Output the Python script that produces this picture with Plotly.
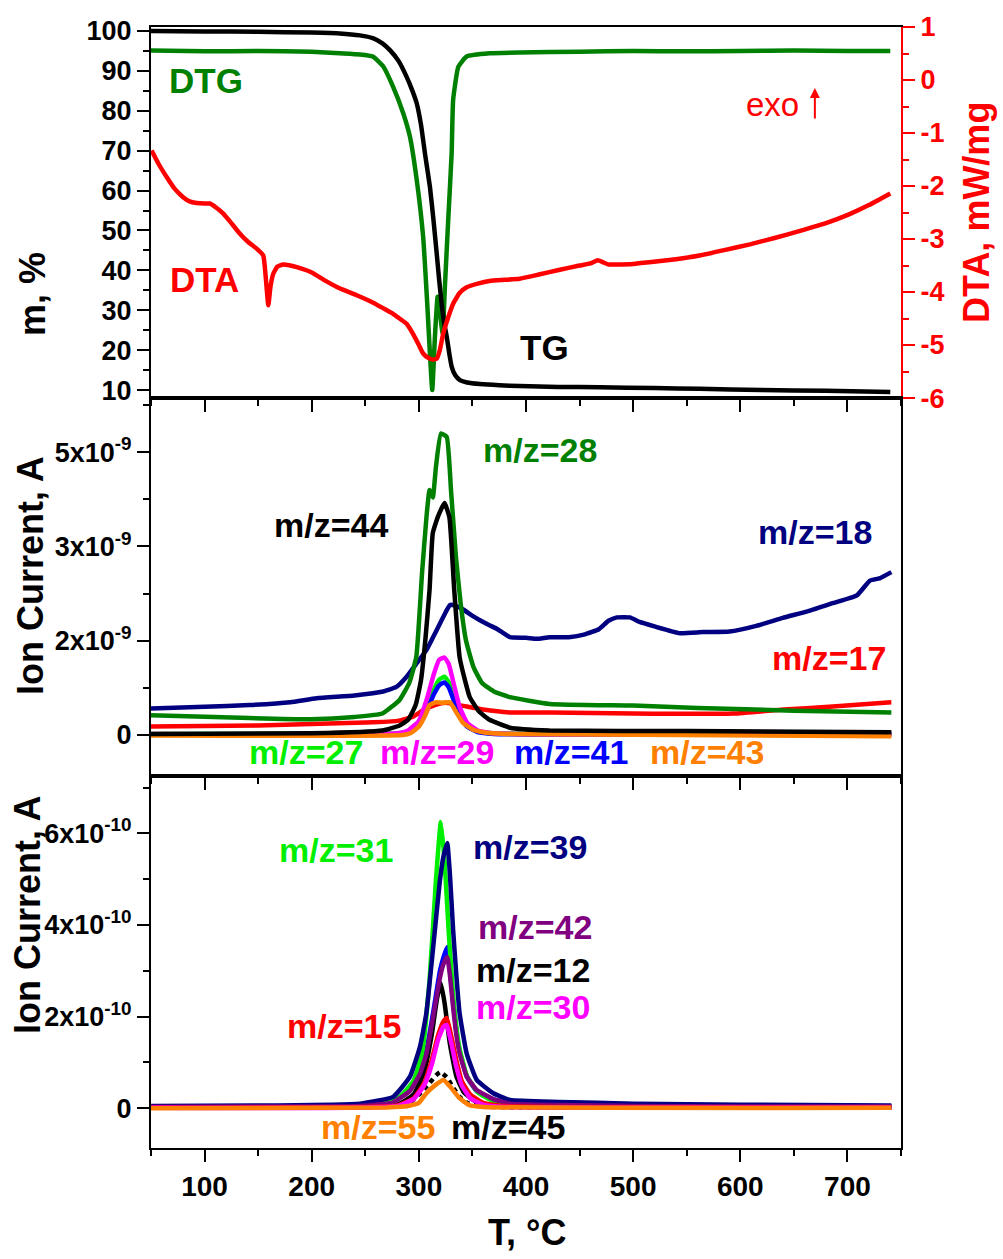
import plotly.graph_objects as go

FONT = "Liberation Sans, Arial, sans-serif"

# ---------------- Top panel: TG / DTG (m, %) and DTA (mW/mg) ----------------
tg_T = [50, 100, 150, 200, 226, 245, 257, 266, 273, 281, 288.6, 294, 298, 302, 305.7, 310.3, 313.5,
        316.6, 319, 321.2, 323.5, 326, 328.5, 330.6, 334, 338.3, 345, 357, 375, 394, 430, 469, 520,
        562, 620, 680, 740]
tg_m = [100, 99.9, 99.8, 99.6, 99.4, 98.9, 98.2, 96.9, 95.2, 92.5, 88.5, 85, 81.9, 76.5, 69.3, 61, 53,
        44.4, 37.5, 31.8, 27, 23.4, 19, 15.9, 13.7, 12.5, 11.9, 11.5, 11.2, 11.0, 10.8, 10.7, 10.5,
        10.3, 10.0, 9.8, 9.5]

dtg_T = [50, 100, 150, 200, 226, 245, 257, 266.8, 276, 285.4, 291.7, 298, 304, 307.8, 310.3, 312.5,
         315, 317.5, 319.7, 322.2, 324.3, 327.4, 330.6, 332, 336.8, 344.6, 366, 394, 450, 500, 550,
         600, 650, 700, 740]
dtg_v = [95.1, 94.9, 95.0, 94.8, 94.4, 94.1, 93.6, 91.1, 86, 79.4, 73.5, 62.7, 48.4, 31.8, 19.3, 10,
         23.4, 33.4, 29.2, 24.2, 35.9, 52.6, 69.3, 82.7, 91, 93.6, 94.4, 94.6, 94.8, 95.0, 94.9,
         95.0, 95.1, 95.0, 95.0]

dta_T = [50.6, 57, 64.6, 72, 80, 86, 92.6, 100, 105, 111, 117.5, 125, 133, 141, 148.6, 154.8, 157,
         159.5, 161.5, 164.2, 168, 173.4, 180, 186, 200, 213, 226, 242, 257.4, 268, 276, 282, 288.6,
         294.8, 300, 304, 308.7, 312.5, 316.6, 319.5, 322.8, 327, 332, 338, 344.6, 355, 366, 380,
         394, 412, 431.6, 450, 460, 467, 472, 477, 483, 500, 515, 540, 562, 585, 609, 632, 655, 680,
         702, 720, 740]
dta_v = [-1.33, -1.58, -1.83, -2.05, -2.21, -2.29, -2.32, -2.33, -2.33, -2.41, -2.52, -2.70, -2.90,
         -3.06, -3.18, -3.31, -3.70, -4.25, -3.90, -3.65, -3.52, -3.48, -3.50, -3.53, -3.63, -3.79,
         -3.93, -4.06, -4.20, -4.32, -4.41, -4.50, -4.60, -4.80, -5.0, -5.16, -5.24, -5.27, -5.26,
         -5.10, -4.78, -4.50, -4.22, -4.02, -3.91, -3.84, -3.79, -3.77, -3.75, -3.67, -3.58, -3.50,
         -3.46, -3.40, -3.44, -3.48, -3.48, -3.47, -3.44, -3.38, -3.31, -3.21, -3.10, -2.98, -2.85,
         -2.70, -2.53, -2.36, -2.14]

dta_tickvals = [-6, -5, -4, -3, -2, -1, 0, 1]
dta_ticktext = ["-6", "-5", "-4", "-3", "-2", "-1", "0", "1"]

# ---------------- Middle panel: ion current, units of 1e-9 A ----------------
mz18_T = [50, 100, 142, 180, 204.6, 240, 266.8, 279, 288.6, 298, 307, 313, 319.7, 325, 329, 335,
          341.4, 349, 357, 365, 372.6, 385, 400, 410, 422, 440, 455, 468, 477, 484.8, 497, 506, 520,
          543.6, 565, 590, 615, 639.7, 665, 686, 708.8, 721, 730, 741]
mz18_v = [0.47, 0.50, 0.53, 0.58, 0.65, 0.70, 0.77, 0.85, 1.03, 1.27, 1.50, 1.72, 1.97, 2.17, 2.30,
          2.28, 2.22, 2.12, 2.03, 1.95, 1.88, 1.73, 1.72, 1.70, 1.73, 1.73, 1.78, 1.87, 2.02, 2.08,
          2.08, 2.00, 1.92, 1.80, 1.82, 1.83, 1.93, 2.07, 2.20, 2.33, 2.47, 2.73, 2.77, 2.88]

mz17_T = [50, 150, 250, 280, 295, 305, 315, 325, 340, 360, 385, 422, 500, 593, 640, 683, 741]
mz17_v = [0.15, 0.17, 0.22, 0.25, 0.33, 0.45, 0.53, 0.57, 0.52, 0.45, 0.40, 0.40, 0.38, 0.38, 0.45,
          0.50, 0.58]

mz28_T = [50, 142, 200, 240, 266, 282, 291, 297.6, 303, 307, 310, 313, 316, 320.6, 326, 330, 334.6,
          339, 344, 351, 359, 370, 385, 422, 500, 560, 650, 741]
mz28_v = [0.35, 0.30, 0.28, 0.32, 0.38, 0.62, 0.92, 1.38, 2.87, 3.83, 4.33, 4.20, 4.75, 5.33, 5.27,
          4.33, 3.15, 2.33, 1.67, 1.20, 0.92, 0.77, 0.67, 0.55, 0.52, 0.48, 0.43, 0.40]

mz44_T = [50, 200, 266, 282, 290, 297, 302, 306, 310, 313, 318, 324, 328.5, 333, 338, 343, 347.5,
          356, 366, 385, 422, 550, 741]
mz44_v = [0.02, 0.03, 0.08, 0.17, 0.27, 0.53, 0.97, 1.67, 2.57, 3.57, 3.87, 4.10, 3.85, 2.57, 1.38,
          0.97, 0.67, 0.42, 0.27, 0.13, 0.08, 0.07, 0.05]

pk_T = [50, 280, 290, 300, 308, 314, 319, 324, 328, 333, 338, 345, 355, 370, 741]
mz29_v = [0.02, 0.03, 0.08, 0.25, 0.67, 1.08, 1.33, 1.37, 1.25, 0.87, 0.50, 0.22, 0.08, 0.03, 0.02]
mz27_v = [0.02, 0.03, 0.06, 0.19, 0.50, 0.80, 0.98, 1.03, 0.93, 0.65, 0.37, 0.16, 0.06, 0.03, 0.02]
mz41_v = [0.01, 0.02, 0.05, 0.17, 0.45, 0.72, 0.88, 0.93, 0.84, 0.59, 0.34, 0.15, 0.05, 0.02, 0.01]

mz43_T = [50, 285, 292, 300, 306, 310, 316, 322, 329, 335, 341, 350, 360, 380, 741]
mz43_v = [-0.01, 0.0, 0.03, 0.15, 0.35, 0.53, 0.58, 0.57, 0.58, 0.40, 0.22, 0.10, 0.05, 0.02, -0.02]

# ---------------- Bottom panel: ion current, units of 1e-10 A ----------------
mz39_T = [50, 150, 245, 276, 291.7, 301, 307, 313.4, 319.7, 323, 326.5, 329, 332, 335, 338, 344.6,
          354, 369.5, 385, 431.6, 500, 600, 741]
mz39_v = [0.05, 0.06, 0.10, 0.25, 0.69, 1.34, 2.08, 3.52, 4.98, 5.50, 5.79, 5.10, 3.89, 2.90, 2.08,
          1.20, 0.62, 0.33, 0.18, 0.14, 0.10, 0.08, 0.06]
mzb41_v = [0.03, 0.04, 0.06, 0.15, 0.41, 0.80, 1.25, 2.10, 3.00, 3.30, 3.52, 3.05, 2.30, 1.70,
           1.25, 0.70, 0.37, 0.20, 0.10, 0.07, 0.05, 0.04, 0.04]
mz42_v = [0.03, 0.04, 0.05, 0.13, 0.38, 0.75, 1.18, 2.00, 2.85, 3.15, 3.30, 2.90, 2.20, 1.60, 1.20,
          0.70, 0.40, 0.20, 0.10, 0.07, 0.05, 0.04, 0.04]

mz31_T = [50, 250, 280, 295, 303, 310, 316, 320.5, 324, 328, 333, 338, 345, 355, 370, 400, 741]
mz31_v = [0.03, 0.05, 0.20, 0.60, 1.20, 2.80, 5.00, 6.25, 5.40, 3.80, 2.20, 1.30, 0.70, 0.35, 0.15,
          0.06, 0.03]

mz12_T = [50, 280, 295, 305, 312, 317, 320.5, 324, 329, 335, 342, 355, 370, 741]
mz12_v = [0.02, 0.08, 0.30, 0.80, 1.60, 2.40, 2.73, 2.30, 1.40, 0.70, 0.35, 0.12, 0.05, 0.02]

mz15_T = [50, 280, 295, 305, 312, 318, 323, 326, 330, 335, 340, 348, 360, 380, 741]
mz15_v = [0.02, 0.06, 0.22, 0.55, 1.05, 1.60, 1.90, 1.97, 1.60, 1.05, 0.60, 0.30, 0.12, 0.05, 0.02]
mz30_v = [0.01, 0.05, 0.20, 0.50, 0.95, 1.50, 1.78, 1.82, 1.45, 0.90, 0.50, 0.22, 0.08, 0.03, 0.01]

mz45_T = [50, 270, 290, 300, 310, 316, 320, 326, 332, 338, 345, 360, 741]
mz45_v = [0.02, 0.04, 0.10, 0.30, 0.55, 0.72, 0.79, 0.68, 0.45, 0.25, 0.12, 0.04, 0.02]

mz55_T = [50, 270, 290, 300, 307, 315, 323, 330, 338, 347, 360, 741]
mz55_v = [0.0, 0.02, 0.05, 0.12, 0.33, 0.50, 0.62, 0.45, 0.22, 0.07, 0.03, 0.01]

# tick labels
mid_tickvals = [0, 5 / 3, 10 / 3, 5]
mid_ticktext = ["0", "2x10<sup>-9</sup>", "3x10<sup>-9</sup>", "5x10<sup>-9</sup>"]
bot_tickvals = [0, 2, 4, 6]
bot_ticktext = ["0", "2x10<sup>-10</sup>", "4x10<sup>-10</sup>", "6x10<sup>-10</sup>"]

GREEN = "#008000"
RED = "#ff0000"
NAVY = "#000080"
BLUE = "#0000ff"
LIME = "#00ee00"
MAGENTA = "#ff00ff"
ORANGE = "#ff8000"
PURPLE = "#800080"
BLACK = "#000000"
LW = 4.5

fig = go.Figure()


def add(x, y, color, xa, ya, dash="solid", width=LW):
    fig.add_trace(go.Scatter(x=x, y=y, mode="lines", xaxis=xa, yaxis=ya, showlegend=False,
                             line=dict(color=color, width=width, dash=dash, shape="spline",
                                       smoothing=0.4)))


# top
add(dta_T, dta_v, RED, "x", "y2")
add(dtg_T, dtg_v, GREEN, "x", "y")
add(tg_T, tg_m, BLACK, "x", "y")
# middle
add(mz18_T, mz18_v, NAVY, "x2", "y3")
add(mz17_T, mz17_v, RED, "x2", "y3")
add(mz28_T, mz28_v, GREEN, "x2", "y3")
add(pk_T, mz27_v, LIME, "x2", "y3")
add(pk_T, mz41_v, BLUE, "x2", "y3")
add(pk_T, mz29_v, MAGENTA, "x2", "y3")
add(mz43_T, mz43_v, ORANGE, "x2", "y3")
add(mz44_T, mz44_v, BLACK, "x2", "y3")
# bottom
add(mz45_T, mz45_v, BLACK, "x3", "y4", dash="dot")
add(mz12_T, mz12_v, BLACK, "x3", "y4")
add(mz39_T, mzb41_v, BLUE, "x3", "y4")
add(mz31_T, mz31_v, LIME, "x3", "y4")
add(mz39_T, mz39_v, NAVY, "x3", "y4")
add(mz39_T, mz42_v, PURPLE, "x3", "y4")
add(mz15_T, mz15_v, RED, "x3", "y4")
add(mz15_T, mz30_v, MAGENTA, "x3", "y4")
add(mz55_T, mz55_v, ORANGE, "x3", "y4")

D_BOT = [0, 0.3318]
D_MID = [0.3318, 0.669]
D_TOP = [0.669, 1.0]

tickf = dict(family=FONT, size=27, color="black", weight="bold")


def xax(anchor, labels):
    return dict(domain=[0, 1], anchor=anchor, range=[50, 750], tick0=0, dtick=100,
                ticks="outside", ticklen=12, tickwidth=2, tickcolor="black",
                showline=True, linecolor="black", linewidth=2, mirror=True,
                showgrid=False, zeroline=False, showticklabels=labels,
                tickfont=dict(family=FONT, size=28, color="black", weight="bold"),
                minor=dict(dtick=50, tick0=0, ticks="outside", ticklen=6, tickwidth=2,
                           tickcolor="black", showgrid=False))


fig.update_layout(
    width=1003, height=1259,
    margin=dict(l=151, r=102, t=27, b=111),
    paper_bgcolor="white", plot_bgcolor="white",
    font=dict(family=FONT, color="black"),
    xaxis=xax("y", False),
    xaxis2=dict(xax("y3", False), matches="x"),
    xaxis3=dict(xax("y4", True), matches="x"),
    yaxis=dict(domain=D_TOP, anchor="x", range=[8.0, 101.0], tick0=0, dtick=10,
               ticks="outside", ticklen=12, tickwidth=2, tickcolor="black",
               showline=True, linecolor="black", linewidth=2, mirror=False,
               showgrid=False, zeroline=False, tickfont=tickf,
               minor=dict(dtick=5, tick0=0, ticks="outside", ticklen=6, tickwidth=2,
                          tickcolor="black", showgrid=False)),
    yaxis2=dict(overlaying="y", anchor="x", side="right", range=[-6.0, 1.0],
                tickmode="array", tickvals=dta_tickvals, ticktext=dta_ticktext,
                ticks="outside", ticklen=12, tickwidth=2, tickcolor=RED,
                showline=True, linecolor=RED, linewidth=2,
                showgrid=False, zeroline=False,
                tickfont=dict(family=FONT, size=27, color=RED, weight="bold"),
                minor=dict(dtick=0.5, tick0=0, ticks="outside", ticklen=6, tickwidth=2,
                           tickcolor=RED, showgrid=False)),
    yaxis3=dict(domain=D_MID, anchor="x2", range=[-0.725, 5.957], tickmode="array",
                tickvals=mid_tickvals, ticktext=mid_ticktext,
                ticks="outside", ticklen=12, tickwidth=2, tickcolor="black",
                showline=True, linecolor="black", linewidth=2, mirror=True,
                showgrid=False, zeroline=False, tickfont=tickf,
                minor=dict(tickmode="array", tickvals=[5 / 6, 2.5, 25 / 6, 35 / 6],
                           ticks="outside", ticklen=6, tickwidth=2, tickcolor="black",
                           showgrid=False)),
    yaxis4=dict(domain=D_BOT, anchor="x3", range=[-0.866, 7.25], tickmode="array",
                tickvals=bot_tickvals, ticktext=bot_ticktext,
                ticks="outside", ticklen=12, tickwidth=2, tickcolor="black",
                showline=True, linecolor="black", linewidth=2, mirror=True,
                showgrid=False, zeroline=False, tickfont=tickf,
                minor=dict(tickmode="array", tickvals=[1, 3, 5, 7],
                           ticks="outside", ticklen=6, tickwidth=2, tickcolor="black",
                           showgrid=False)),
)

ann = []


def label(text, x, y, color, xref, yref, size=35, bold=True):
    ann.append(dict(text=(f"<b>{text}</b>" if bold else text), x=x, y=y, xref=xref, yref=yref,
                    showarrow=False, xanchor="center", yanchor="middle",
                    font=dict(family=FONT, size=size, color=color)))


# top panel labels
label("DTG", 101, 87.7, GREEN, "x", "y")
label("DTA", 100, 37.6, RED, "x", "y")
label("TG", 417.6, 20.6, BLACK, "x", "y")
label("exo", 630, 81.5, RED, "x", "y", size=33, bold=False)
ann.append(dict(x=669.6, y=85.7, xref="x", yref="y", ax=0, ay=32, text="", showarrow=True,
                arrowhead=2, arrowsize=1, arrowwidth=2, arrowcolor=RED))
# middle panel labels
label("m/z=28", 413, 5.04, GREEN, "x2", "y3", size=34)
label("m/z=44", 218, 3.71, BLACK, "x2", "y3", size=34)
label("m/z=18", 669.6, 3.59, NAVY, "x2", "y3", size=34)
label("m/z=17", 682.6, 1.36, RED, "x2", "y3", size=34)
label("m/z=27", 194.6, -0.30, LIME, "x2", "y3", size=34)
label("m/z=29", 316.9, -0.30, MAGENTA, "x2", "y3", size=34)
label("m/z=41", 442, -0.30, BLUE, "x2", "y3", size=34)
label("m/z=43", 568.8, -0.30, ORANGE, "x2", "y3", size=34)
# bottom panel labels
label("m/z=31", 222.6, 5.64, LIME, "x3", "y4", size=34)
label("m/z=39", 403.6, 5.70, NAVY, "x3", "y4", size=34)
label("m/z=42", 408, 3.95, PURPLE, "x3", "y4", size=34)
label("m/z=12", 406.4, 3.02, BLACK, "x3", "y4", size=34)
label("m/z=30", 406.4, 2.21, MAGENTA, "x3", "y4", size=34)
label("m/z=15", 230, 1.80, RED, "x3", "y4", size=34)
label("m/z=55", 261.8, -0.41, ORANGE, "x3", "y4", size=34)
label("m/z=45", 383, -0.41, BLACK, "x3", "y4", size=34)


def title(text, x, y, color="black", angle=-90, size=36):
    ann.append(dict(text=f"<b>{text}</b>", x=x, y=y, xref="paper", yref="paper",
                    showarrow=False, xanchor="center", yanchor="middle", textangle=angle,
                    font=dict(family=FONT, size=size, color=color)))


title("m, %", -0.1587, 0.7618)
title("DTA, mW/mg", 1.1013, 0.835, color=RED)
title("Ion Current, A", -0.16, 0.5103)
title("Ion Current, A", -0.1653, 0.2078)
title("T, °C", 0.5013, -0.0758, angle=0)

fig.update_layout(annotations=ann)
fig.write_html("out.html")
